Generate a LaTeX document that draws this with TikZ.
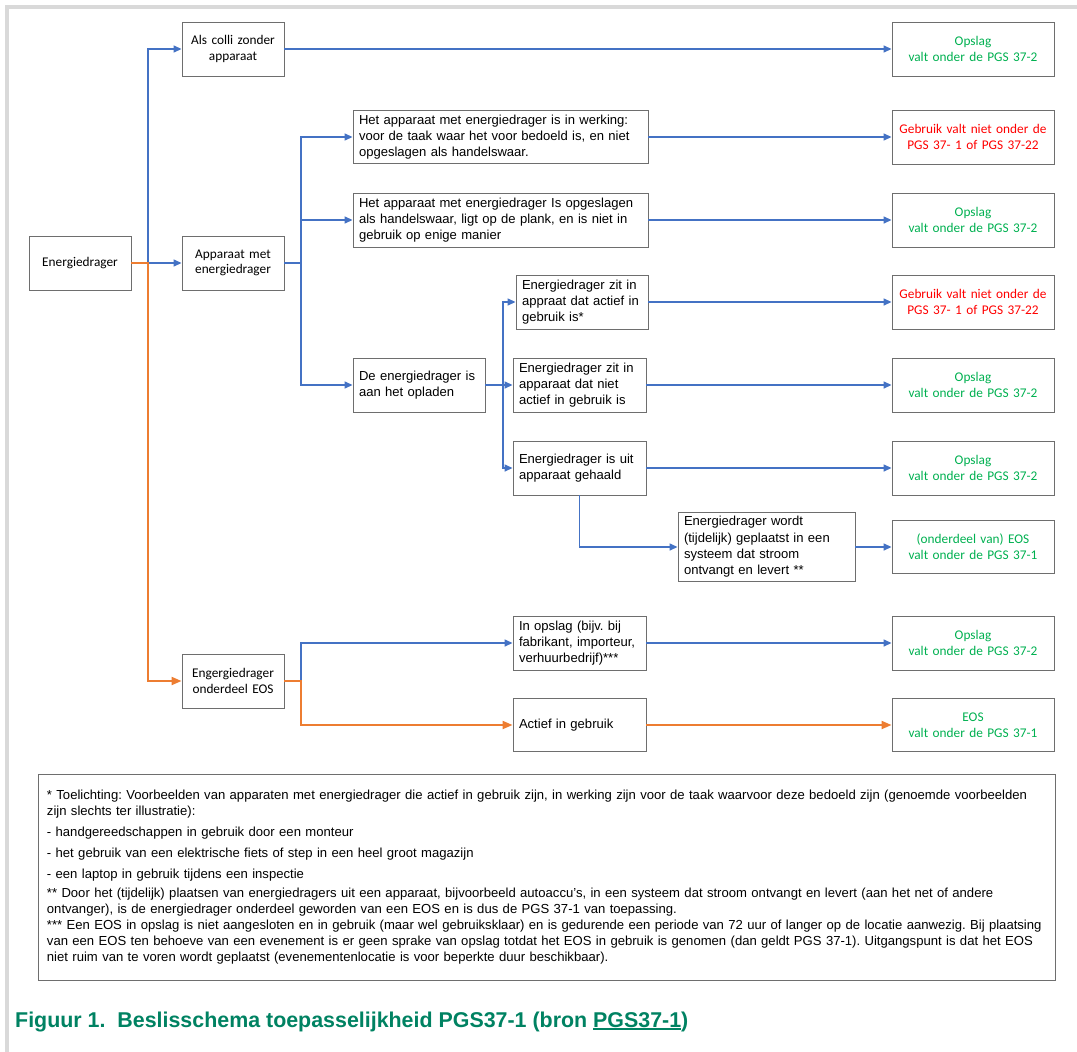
\documentclass[tikz,border=0pt]{standalone}
\usepackage{fontspec}
\setmainfont{Liberation Sans}
\newfontfamily\calibri{Carlito}
\usepackage{xcolor}
\usepackage{tikz}
\usetikzlibrary{arrows.meta,positioning}

\definecolor{flowblue}{RGB}{68,114,196}
\definecolor{floworange}{RGB}{237,125,49}
\definecolor{boxgray}{RGB}{110,110,110}
\definecolor{okgreen}{RGB}{0,176,80}
\definecolor{nogred}{RGB}{255,0,0}
\definecolor{captiongreen}{RGB}{0,130,98}
\definecolor{framegray}{RGB}{217,217,217}

\newcommand{\linktext}[1]{\setbox0\hbox{#1}\rlap{\rule[-3pt]{\wd0}{2pt}}\box0}

\tikzset{
    box/.style={draw=boxgray, line width=0.9pt, inner xsep=6pt, inner ysep=0pt,
        minimum height=54pt, align=left, font=\fontsize{13.05}{16.3}\selectfont},
    cbox/.style={box, inner xsep=3pt, align=center, font=\calibri\fontsize{13.3}{15.7}\selectfont},
    okbox/.style={cbox, text width=156pt, text=okgreen},
    nobox/.style={cbox, text width=156pt, text=nogred},
    blueline/.style={draw=flowblue, line width=1.4pt, -{Triangle[length=8pt,width=7pt]}},
    orangeline/.style={draw=floworange, line width=2pt, -{Triangle[length=10pt,width=8pt]}}
}

\frenchspacing
\hyphenpenalty=10000

\begin{document}
\begin{tikzpicture}[x=1pt, y=-1pt]
    \useasboundingbox (0,0) rectangle (1077,1052);
    \fill[framegray] (5,5) rectangle (1077,9);
    \fill[framegray] (5,5) rectangle (9,1052);

    % left column
    \node[cbox, text width=96pt] (energiedrager) at (80, 263) {Energiedrager};
    \node[cbox, text width=96pt] (colli) at (233, 49) {Als colli zonder\\apparaat};
    \node[cbox, text width=96pt] (apparaat) at (233, 263) {Apparaat met\\energiedrager};
    \node[cbox, text width=96pt] (eos) at (233, 681) {Engergiedrager\\onderdeel EOS};

    % middle columns
    \node[box, text width=283pt, minimum height=53pt] (werking) at (500.5, 137) {Het apparaat met energiedrager is in werking:\\voor de taak waar het voor bedoeld is, en niet\\opgeslagen als handelswaar.};
    \node[box, text width=283pt] (opgeslagen) at (500.5, 220) {Het apparaat met energiedrager Is opgeslagen\\als handelswaar, ligt op de plank, en is niet in\\gebruik op enige manier};
    \node[box, text width=120pt] (opladen) at (419, 385) {De energiedrager is\\aan het opladen};
    \node[box, text width=120pt] (actief) at (582, 302) {Energiedrager zit in\\appraat dat actief in\\gebruik is*};
    \node[box, text width=121pt] (nietactief) at (579.5, 385) {Energiedrager zit in\\apparaat dat niet\\actief in gebruik is};
    \node[box, text width=121pt] (uitgehaald) at (579.5, 468) {Energiedrager is uit\\apparaat gehaald};
    \node[box, text width=165pt, minimum height=69pt] (geplaatst) at (766.5, 547) {Energiedrager wordt\\(tijdelijk) geplaatst in een\\systeem dat stroom\\ontvangt en levert **};
    \node[box, text width=121pt] (inopslag) at (579.5, 643) {In opslag (bijv. bij\\fabrikant, importeur,\\verhuurbedrijf)***};
    \node[box, text width=121pt, minimum height=53pt] (ingebruik) at (579.5, 725) {Actief in gebruik};

    % outcomes
    \node[okbox] (opslag1) at (973, 49) {Opslag\\valt onder de PGS 37-2};
    \node[nobox] (gebruik1) at (973, 137) {Gebruik valt niet onder de\\PGS 37- 1 of PGS 37-22};
    \node[okbox] (opslag2) at (973, 220) {Opslag\\valt onder de PGS 37-2};
    \node[nobox] (gebruik2) at (973, 302) {Gebruik valt niet onder de\\PGS 37- 1 of PGS 37-22};
    \node[okbox] (opslag3) at (973, 385) {Opslag\\valt onder de PGS 37-2};
    \node[okbox] (opslag4) at (973, 468) {Opslag\\valt onder de PGS 37-2};
    \node[okbox, minimum height=53pt] (eosdeel) at (973, 547) {(onderdeel van) EOS\\valt onder de PGS 37-1};
    \node[okbox] (opslag5) at (973, 643) {Opslag\\valt onder de PGS 37-2};
    \node[okbox, minimum height=53pt] (eosgebruik) at (973, 725) {EOS\\valt onder de PGS 37-1};

    % splits
    \coordinate (splitA) at (148, 263);
    \coordinate (splitB) at (301, 263);
    \coordinate (splitC) at (503, 385);
    \coordinate (splitD) at (301, 681);

    \draw[blueline] (splitA) |- (colli);
    \draw[blueline] (splitA) -- (apparaat);
    \draw[orangeline] (energiedrager) -- (splitA) |- (eos);

    \draw[blueline] (colli) -- (opslag1);

    \draw[blueline] (apparaat) -- (splitB) |- (werking);
    \draw[blueline] (splitB) |- (opgeslagen);
    \draw[blueline] (splitB) |- (opladen);

    \draw[blueline] (werking) -- (gebruik1);
    \draw[blueline] (opgeslagen) -- (opslag2);

    \draw[blueline] (opladen) -- (splitC) |- (actief);
    \draw[blueline] (splitC) -- (nietactief);
    \draw[blueline] (splitC) |- (uitgehaald);

    \draw[blueline] (actief) -- (gebruik2);
    \draw[blueline] (nietactief) -- (opslag3);
    \draw[blueline] (uitgehaald) -- (opslag4);
    \draw[blueline] (uitgehaald.south) |- (geplaatst);
    \draw[blueline] (geplaatst) -- (eosdeel);

    \draw[blueline] (splitD) |- (inopslag);
    \draw[orangeline] (eos) -- (splitD) |- (ingebruik);
    \draw[blueline] (inopslag) -- (opslag5);
    \draw[orangeline] (ingebruik) -- (eosgebruik);

    % notes
    \node[draw=boxgray, line width=0.9pt, anchor=north west, inner xsep=8.5pt, inner ysep=0pt,
        text width=1000pt, minimum height=206pt, align=left,
        font=\fontsize{13.1}{16}\selectfont] (toelichting) at (38, 774) {%
        * Toelichting: Voorbeelden van apparaten met energiedrager die actief in gebruik zijn, in werking zijn voor de taak waarvoor deze bedoeld zijn (genoemde voorbeelden\\[0pt]
        zijn slechts ter illustratie):\\[5pt]
        - handgereedschappen in gebruik door een monteur\\[5pt]
        - het gebruik van een elektrische fiets of step in een heel groot magazijn\\[5pt]
        - een laptop in gebruik tijdens een inspectie\\[3pt]
        ** Door het (tijdelijk) plaatsen van energiedragers uit een apparaat, bijvoorbeeld autoaccu’s, in een systeem dat stroom ontvangt en levert (aan het net of andere\\[0pt]
        ontvanger), is de energiedrager onderdeel geworden van een EOS en is dus de PGS 37-1 van toepassing.\\[0pt]
        \mbox{*** Een EOS in opslag is niet aangesloten en in gebruik (maar wel gebruiksklaar) en is gedurende een periode van 72 uur of langer op de locatie aanwezig. Bij plaatsing}\\[0pt]
        van een EOS ten behoeve van een evenement is er geen sprake van opslag totdat het EOS in gebruik is genomen (dan geldt PGS 37-1). Uitgangspunt is dat het EOS\\[0pt]
        niet ruim van te voren wordt geplaatst (evenementenlocatie is voor beperkte duur beschikbaar).};

    % caption
    \node[anchor=west, inner sep=0pt, text=captiongreen, font=\bfseries\fontsize{21.4}{24}\selectfont] (figuur) at (15, 1022) {Figuur 1.\ \ Beslisschema toepasselijkheid PGS37-1 (bron \linktext{PGS37-1})};
\end{tikzpicture}
\end{document}
